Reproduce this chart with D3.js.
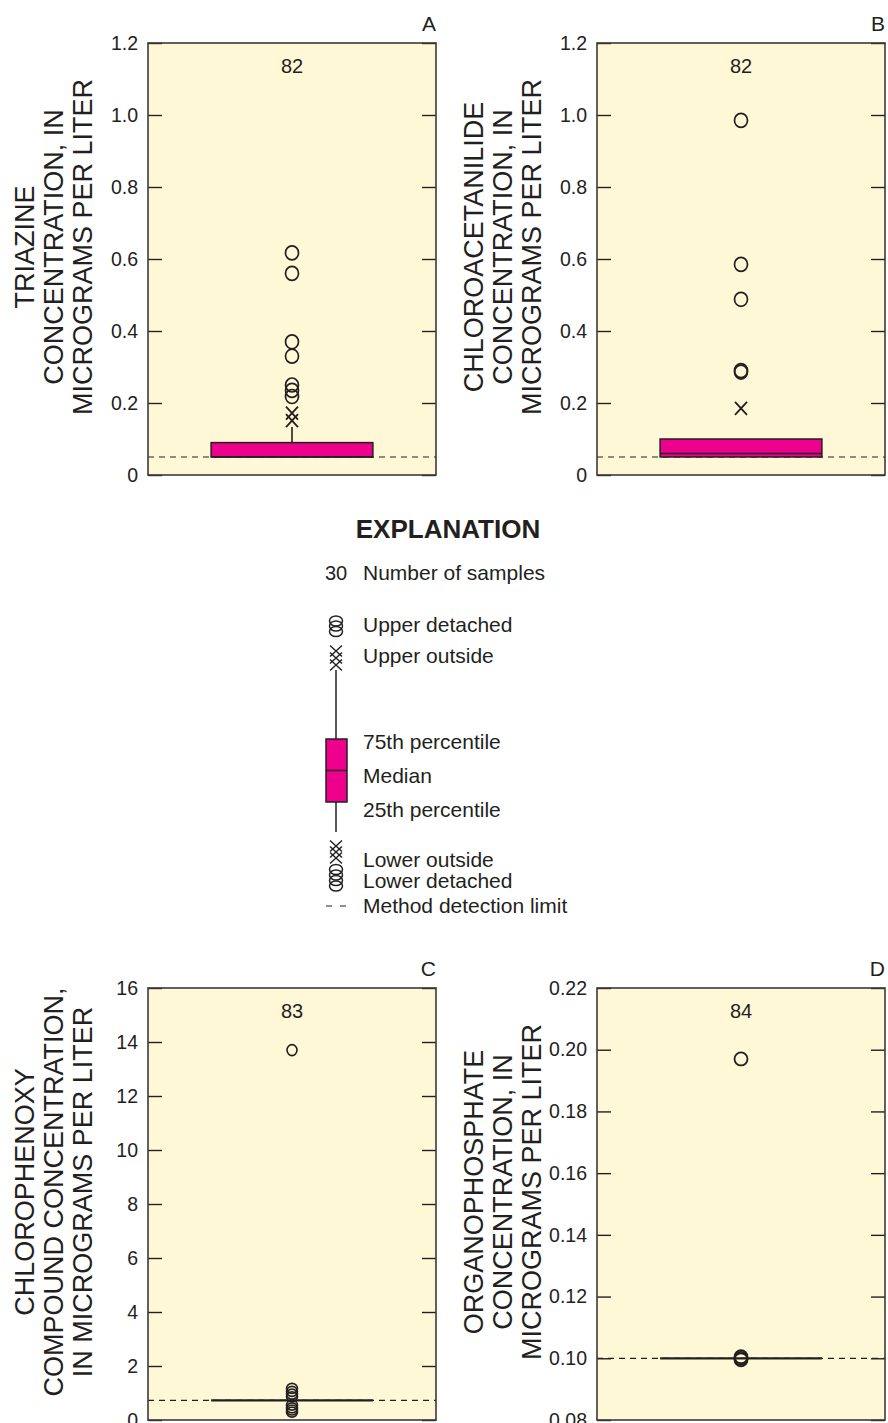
<!DOCTYPE html>
<html>
<head>
<meta charset="utf-8">
<script src="https://cdn.jsdelivr.net/npm/d3@7"></script>
<style>
  body { margin: 0; background: #fff; }
  svg { display: block; font-family: "Liberation Sans", Arial, sans-serif; }
</style>
</head>
<body>
<script>
(function () {
    'use strict';

    const width = 888;
    const height = 1423;
    const ink = "#231f20";

    // chart data
    const panelLetters = ["A", "B", "C", "D"];
    const titles = [
        ["TRIAZINE", "CONCENTRATION, IN", "MICROGRAMS PER LITER"],
        ["CHLOROACETANILIDE", "CONCENTRATION, IN", "MICROGRAMS PER LITER"],
        ["CHLOROPHENOXY", "COMPOUND CONCENTRATION,", "IN MICROGRAMS PER LITER"],
        ["ORGANOPHOSPHATE", "CONCENTRATION, IN", "MICROGRAMS PER LITER"]
    ];
    const sampleCounts = [82, 82, 83, 84];
    const yDomains = [[0, 1.2], [0, 1.2], [0, 16], [0.08, 0.22]];
    const tickLabels = [
        ["0", "0.2", "0.4", "0.6", "0.8", "1.0", "1.2"],
        ["0", "0.2", "0.4", "0.6", "0.8", "1.0", "1.2"],
        ["0", "2", "4", "6", "8", "10", "12", "14", "16"],
        ["0.08", "0.10", "0.12", "0.14", "0.16", "0.18", "0.20", "0.22"]
    ];
    const q1 = [0.05, 0.05, 0.73, 0.10];
    const median = [0.05, 0.06, 0.73, 0.10];
    const q3 = [0.09, 0.10, 0.73, 0.10];
    const whiskerTop = [0.133, 0.10, 0.73, 0.10];
    const detectionLimit = [0.05, 0.05, 0.73, 0.10];
    const upperOutside = [[0.151, 0.172], [0.185], [], []];
    const upperDetached = [
        [0.617, 0.56, 0.37, 0.33, 0.25, 0.235, 0.218],
        [0.286, 0.29, 0.488, 0.585, 0.985],
        [13.7, 1.17, 1.06, 0.96, 0.86],
        [0.197, 0.0995, 0.1, 0.1005]
    ];
    const lowerDetached = [[], [], [0.55, 0.45, 0.37, 0.29], []];

    const legendLabels = ["Number of samples", "Upper detached", "Upper outside",
        "75th percentile", "Median", "25th percentile",
        "Lower outside", "Lower detached", "Method detection limit"];

    // layout
    const plotW = 288, plotH = 432;
    const panelPos = [[148, 43], [597, 43], [148, 988], [597, 988]];
    const markSize = [
        {rx: 6.5, ry: 7, sw: 1.7},
        {rx: 6.5, ry: 7, sw: 1.7},
        {rx: 5.5, ry: 5, sw: 1.6},
        {rx: 6.5, ry: 6.5, sw: 1.8}
    ];

    const svg = d3.select("body").append("svg")
        .attr("width", width)
        .attr("height", height);

    const drawPanel = (i) => {
        const [left, top] = panelPos[i];
        const g = svg.append("g").attr("transform", `translate(${left},${top})`);

        const y = d3.scaleLinear().domain(yDomains[i]).range([plotH, 0]);
        const x = d3.scaleBand().domain([panelLetters[i]]).range([0, plotW]).paddingOuter(0.39);
        const cx = x(panelLetters[i]) + x.bandwidth() / 2;
        const ticks = tickLabels[i].map(Number);

        g.append("rect")
            .attr("width", plotW).attr("height", plotH)
            .attr("fill", "#fff8d6");

        const left_axis = g.append("g")
            .call(d3.axisLeft(y).tickValues(ticks).tickSize(-14).tickPadding(10)
                .tickFormat((d, j) => tickLabels[i][j]));
        const right_axis = g.append("g")
            .attr("transform", `translate(${plotW},0)`)
            .call(d3.axisRight(y).tickValues(ticks).tickSize(-14).tickFormat(""));
        [left_axis, right_axis].forEach(a => {
            a.select(".domain").remove();
            a.selectAll("line").attr("stroke", ink).attr("stroke-width", 1.4);
            a.selectAll("text").attr("fill", ink).attr("font-size", 19.5)
                .attr("font-family", "Liberation Sans, Arial, sans-serif");
        });

        // detection limit
        g.append("line")
            .attr("x1", 0).attr("x2", plotW)
            .attr("y1", y(detectionLimit[i])).attr("y2", y(detectionLimit[i]))
            .attr("stroke", ink).attr("stroke-width", 1.2)
            .attr("stroke-dasharray", "6,5");

        // whisker
        if (whiskerTop[i] > q3[i]) {
            g.append("line")
                .attr("x1", cx).attr("x2", cx)
                .attr("y1", y(q3[i])).attr("y2", y(whiskerTop[i]))
                .attr("stroke", ink).attr("stroke-width", 1.6);
        }

        // box
        if (q3[i] > q1[i]) {
            g.append("rect")
                .attr("x", x(panelLetters[i])).attr("width", x.bandwidth())
                .attr("y", y(q3[i])).attr("height", y(q1[i]) - y(q3[i]))
                .attr("fill", "#ec008c").attr("stroke", ink).attr("stroke-width", 1.5);
            g.append("line")
                .attr("x1", x(panelLetters[i])).attr("x2", x(panelLetters[i]) + x.bandwidth())
                .attr("y1", y(median[i])).attr("y2", y(median[i]))
                .attr("stroke", ink).attr("stroke-width", 1.5);
        } else {
            g.append("line")
                .attr("x1", x(panelLetters[i])).attr("x2", x(panelLetters[i]) + x.bandwidth())
                .attr("y1", y(median[i])).attr("y2", y(median[i]))
                .attr("stroke", ink).attr("stroke-width", 2.2);
        }

        // outside values (x marks)
        g.selectAll(".outside")
            .data(upperOutside[i])
            .enter().append("path")
            .attr("class", "outside")
            .attr("d", d => `M${cx - 6},${y(d) - 6.5}L${cx + 6},${y(d) + 6.5}M${cx + 6},${y(d) - 6.5}L${cx - 6},${y(d) + 6.5}`)
            .attr("fill", "none").attr("stroke", ink).attr("stroke-width", 1.8);

        // detached values (circles)
        const m = markSize[i];
        g.selectAll(".detached")
            .data(upperDetached[i].concat(lowerDetached[i]))
            .enter().append("ellipse")
            .attr("class", "detached")
            .attr("cx", cx).attr("cy", d => y(d))
            .attr("rx", (d, j) => (i === 2 && j === 0) ? 5 : m.rx)
            .attr("ry", (d, j) => (i === 2 && j === 0) ? 5.5 : m.ry)
            .attr("fill", "none").attr("stroke", ink).attr("stroke-width", m.sw);

        // frame
        g.append("rect")
            .attr("width", plotW).attr("height", plotH)
            .attr("fill", "none").attr("stroke", "#3a3a3a").attr("stroke-width", 1.6);

        // count + letter
        g.append("text")
            .attr("x", cx).attr("y", 30)
            .attr("text-anchor", "middle").attr("font-size", 20).attr("fill", ink)
            .text(sampleCounts[i]);
        g.append("text")
            .attr("x", plotW).attr("y", -12)
            .attr("text-anchor", "end").attr("font-size", 21).attr("fill", ink)
            .text(panelLetters[i]);

        // y title
        titles[i].forEach((line, j) => {
            g.append("text")
                .attr("transform", `translate(${-124 + 29 * j},${plotH / 2 - 12}) rotate(-90)`)
                .attr("text-anchor", "middle").attr("dy", "0.36em")
                .attr("font-size", 27).attr("fill", ink)
                .text(line);
        });
    };

    panelLetters.forEach((p, i) => drawPanel(i));

    // explanation
    const lg = svg.append("g");
    lg.append("text")
        .attr("x", 448).attr("y", 538)
        .attr("text-anchor", "middle").attr("font-size", 26).attr("font-weight", "bold")
        .attr("fill", ink).text("EXPLANATION");

    const legendY = [580, 632, 663, 749, 783, 817, 867, 888, 913];
    lg.selectAll(".lab")
        .data(legendLabels)
        .enter().append("text")
        .attr("class", "lab")
        .attr("x", 363).attr("y", (d, i) => legendY[i])
        .attr("font-size", 21).attr("fill", ink)
        .text(d => d);

    const sx = 336;
    lg.append("text").attr("x", sx).attr("y", 580)
        .attr("text-anchor", "middle").attr("font-size", 20).attr("fill", ink).text("30");

    const circ = (cy) => lg.append("ellipse").attr("cx", sx).attr("cy", cy)
        .attr("rx", 6.5).attr("ry", 5).attr("fill", "none")
        .attr("stroke", ink).attr("stroke-width", 1.5);
    const cross = (cy) => lg.append("path")
        .attr("d", `M${sx - 6},${cy - 5.5}L${sx + 6},${cy + 5.5}M${sx + 6},${cy - 5.5}L${sx - 6},${cy + 5.5}`)
        .attr("fill", "none").attr("stroke", ink).attr("stroke-width", 1.4);

    [621, 626, 631.5].forEach(circ);
    [651, 658, 665].forEach(cross);
    lg.append("line").attr("x1", sx).attr("x2", sx).attr("y1", 670).attr("y2", 832)
        .attr("stroke", ink).attr("stroke-width", 1.5);
    lg.append("rect").attr("x", 326).attr("y", 739).attr("width", 21).attr("height", 63)
        .attr("fill", "#ec008c").attr("stroke", ink).attr("stroke-width", 1.5);
    lg.append("line").attr("x1", 326).attr("x2", 347).attr("y1", 770.5).attr("y2", 770.5)
        .attr("stroke", ink).attr("stroke-width", 1.5);
    [846, 852, 858].forEach(cross);
    [869.5, 875, 880.5, 886].forEach(circ);
    lg.append("line").attr("x1", 326).attr("x2", 347).attr("y1", 906).attr("y2", 906)
        .attr("stroke", ink).attr("stroke-width", 1.2).attr("stroke-dasharray", "6,8");
}());
</script>
</body>
</html>
